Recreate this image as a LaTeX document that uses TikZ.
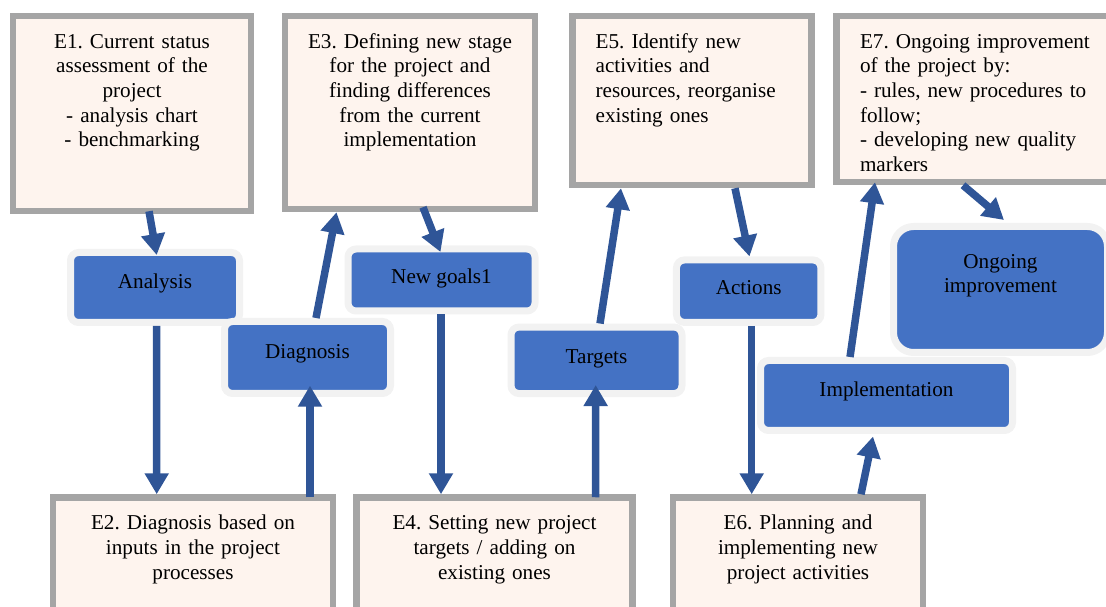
\documentclass[tikz,border=0pt]{standalone}
\usepackage{fontspec}
\setmainfont{Liberation Serif}
\usetikzlibrary{arrows.meta,calc}
\definecolor{stagefill}{HTML}{FEF4EE}
\definecolor{stageline}{HTML}{A5A5A5}
\definecolor{phasefill}{HTML}{4472C4}
\definecolor{phaseline}{HTML}{F2F2F2}
\definecolor{linkcol}{HTML}{2F5597}
\begin{document}
\begin{tikzpicture}
            [x=0.6pt,y=-0.6pt,font=\fontsize{12.7}{14.75}\selectfont\frenchspacing,
            stage/.style={rectangle,draw=stageline,fill=stagefill,line width=3.9pt,inner sep=0pt,text height=19.4pt,align=center},
            phase/.style={rectangle,rounded corners=4.8pt,draw=phaseline,fill=phasefill,line width=4.2pt,inner sep=0pt,text height=7.9pt,text depth=6.1pt},
            link/.style={draw=linkcol,line width=4.5pt,-{Triangle[width=13.8pt,length=12.6pt]}}]
            \useasboundingbox (0,0) rectangle (1106,607);
            \clip (0,0) rectangle (1106,607);
            % stages
            \node[stage,minimum width=142.8pt,text width=125pt,text depth=97.6pt] (e1) at (132,113.5)
                {E1. Current status\\assessment of the\\project\\- analysis chart\\- benchmarking};
            \node[stage,minimum width=150pt,text width=135pt,text depth=96.4pt] (e3) at (410,112.5)
                {E3. Defining new stage\\for the project and\\finding differences\\from the current\\implementation};
            \node[stage,minimum width=143.4pt,text width=115.6pt,text depth=82pt,align=left] (e5) at (692,100.5)
                {E5. Identify new\\activities and\\resources, reorganise\\existing ones};
            \node[stage,minimum width=173.4pt,text width=145.2pt,text depth=80.2pt,align=left] (e7) at (981,99)
                {E7. Ongoing improvement\\of the project by:\\- rules, new procedures to\\follow;\\- developing new quality\\markers};
            \node[stage,minimum width=168pt,text width=150pt,text depth=66.4pt] (e2) at (193,569)
                {E2. Diagnosis based on\\inputs in the project\\processes};
            \node[stage,minimum width=165.6pt,text width=150pt,text depth=66.4pt] (e4) at (494.5,569)
                {E4. Setting new project\\targets / adding on\\existing ones};
            \node[stage,minimum width=150pt,text width=135pt,text depth=66.4pt] (e6) at (798,569)
                {E6. Planning and\\implementing new\\project activities};
            % phases
            \node[phase,minimum width=101.4pt,minimum height=42pt] (ana) at (155,287.5) {Analysis};
            \node[phase,minimum width=99.6pt,minimum height=43.2pt] (diag) at (307.5,357.5) {Diagnosis};
            \node[phase,minimum width=112.2pt,minimum height=37.2pt,text height=9.4pt,text depth=4.6pt] (goals) at (441.5,280) {New goals1};
            \node[phase,minimum width=102.6pt,minimum height=39.9pt,text height=9.2pt,text depth=4.8pt] (targ) at (596.5,360.3) {Targets};
            \node[phase,minimum width=86.7pt,minimum height=37.5pt,text height=9.2pt,text depth=4.8pt] (act) at (748.7,291.2) {Actions};
            \node[phase,minimum width=151.2pt,minimum height=42pt] (impl) at (886.5,395.5) {Implementation};
            \node[phase,rounded corners=12pt,minimum width=128.4pt,text width=110pt,align=center,
                text height=25pt,text depth=50.6pt] (ongo) at (1000.5,289.5) {Ongoing\\improvement};
            % links
            \draw[link] ($(e1.south)+(17,-3)$) -- ($(ana.north)+(1.7,6)$);
            \draw[link] ($(ana.south)+(1.7,0)$) -- ($(e2.north)+(-36.3,0)$);
            \draw[link] ($(e2.north)+(117,3)$) -- ($(diag.south)+(2.5,-11.3)$);
            \draw[link] ($(diag.north)+(8.5,0)$) -- ($(e3.south)+(-73.5,0)$);
            \draw[link] ($(e3.south)+(13,-5)$) -- ($(goals.north)+(-1,6.5)$);
            \draw[link] ($(goals.south)+(-0.5,0)$) -- ($(e4.north)+(-53.5,0)$);
            \draw[link] ($(e4.north)+(101,3)$) -- ($(targ.south)+(-0.8,-12)$);
            \draw[link] ($(targ.north)+(3.5,0)$) -- ($(e5.south)+(-71,0)$);
            \draw[link] ($(e5.south)+(43,0)$) -- ($(act.north)+(0.8,0)$);
            \draw[link] ($(act.south)+(3,0)$) -- ($(e6.north)+(-46.3,0)$);
            \draw[link] ($(e6.north)+(63,0)$) -- ($(impl.south)+(-13.5,2.5)$);
            \draw[link] ($(impl.north)+(-36.5,0)$) -- ($(e7.south)+(-106,-3)$);
            \draw[link] ($(e7.south)+(-18,0)$) -- ($(ongo.north)+(3.5,-3)$);
\end{tikzpicture}
\end{document}
